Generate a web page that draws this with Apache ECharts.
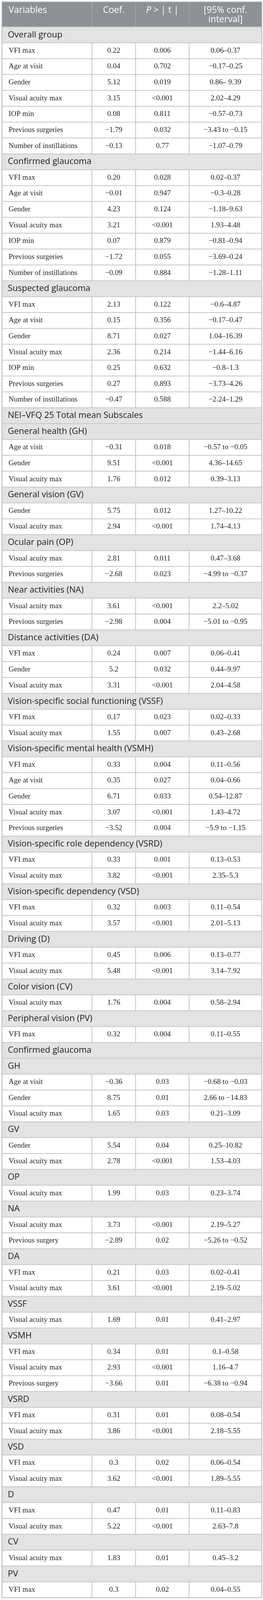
<!DOCTYPE html>
<html>
<head>
<meta charset="utf-8">
<script src="https://cdn.jsdelivr.net/npm/echarts@6/dist/echarts.min.js"></script>
<style>
  html, body { margin: 0; padding: 0; background: #fff; overflow: hidden; }
  #chart { width: 673px; height: 4338px; }
</style>
</head>
<body>
<div id="chart"></div>
<script>
// table content
const headers = ['Variables', 'Coef.', 'P > | t |', '[95% conf.', 'interval]'];

const variables = [
  'Overall group', 'VFI max', 'Age at visit', 'Gender', 'Visual acuity max', 'IOP min', 'Previous surgeries', 'Number of instillations',
  'Confirmed glaucoma', 'VFI max', 'Age at visit', 'Gender', 'Visual acuity max', 'IOP min', 'Previous surgeries', 'Number of instillations',
  'Suspected glaucoma', 'VFI max', 'Age at visit', 'Gender', 'Visual acuity max', 'IOP min', 'Previous surgeries', 'Number of instillations',
  'NEI\u2013VFQ 25 Total mean Subscales',
  'General health (GH)', 'Age at visit', 'Gender', 'Visual acuity max',
  'General vision (GV)', 'Gender', 'Visual acuity max',
  'Ocular pain (OP)', 'Visual acuity max', 'Previous surgeries',
  'Near activities (NA)', 'Visual acuity max', 'Previous surgeries',
  'Distance activities (DA)', 'VFI max', 'Gender', 'Visual acuity max',
  'Vision-specific social functioning (VSSF)', 'VFI max', 'Visual acuity max',
  'Vision-specific mental health (VSMH)', 'VFI max', 'Age at visit', 'Gender', 'Visual acuity max', 'Previous surgeries',
  'Vision-specific role dependency (VSRD)', 'VFI max', 'Visual acuity max',
  'Vision-specific dependency (VSD)', 'VFI max', 'Visual acuity max',
  'Driving (D)', 'VFI max', 'Visual acuity max',
  'Color vision (CV)', 'Visual acuity max',
  'Peripheral vision (PV)', 'VFI max',
  'Confirmed glaucoma',
  'GH', 'Age at visit', 'Gender', 'Visual acuity max',
  'GV', 'Gender', 'Visual acuity max',
  'OP', 'Visual acuity max',
  'NA', 'Visual acuity max', 'Previous surgery',
  'DA', 'VFI max', 'Visual acuity max',
  'VSSF', 'Visual acuity max',
  'VSMH', 'VFI max', 'Visual acuity max', 'Previous surgery',
  'VSRD', 'VFI max', 'Visual acuity max',
  'VSD', 'VFI max', 'Visual acuity max',
  'D', 'VFI max', 'Visual acuity max',
  'CV', 'Visual acuity max',
  'PV', 'VFI max'
];

// null marks a section row
const coef = [
  null, '0.22', '0.04', '5.12', '3.15', '0.08', '\u22121.79', '\u22120.13',
  null, '0.20', '\u22120.01', '4.23', '3.21', '0.07', '\u22121.72', '\u22120.09',
  null, '2.13', '0.15', '8.71', '2.36', '0.25', '0.27', '\u22120.47',
  null,
  null, '\u22120.31', '9.51', '1.76',
  null, '5.75', '2.94',
  null, '2.81', '\u22122.68',
  null, '3.61', '\u22122.98',
  null, '0.24', '5.2', '3.31',
  null, '0.17', '1.55',
  null, '0.33', '0.35', '6.71', '3.07', '\u22123.52',
  null, '0.33', '3.82',
  null, '0.32', '3.57',
  null, '0.45', '5.48',
  null, '1.76',
  null, '0.32',
  null,
  null, '\u22120.36', '8.75', '1.65',
  null, '5.54', '2.78',
  null, '1.99',
  null, '3.73', '\u22122.89',
  null, '0.21', '3.61',
  null, '1.69',
  null, '0.34', '2.93', '\u22123.66',
  null, '0.31', '3.86',
  null, '0.3', '3.62',
  null, '0.47', '5.22',
  null, '1.83',
  null, '0.3'
];

const pValues = [
  null, '0.006', '0.702', '0.019', '<0.001', '0.811', '0.032', '0.77',
  null, '0.028', '0.947', '0.124', '<0.001', '0.879', '0.055', '0.884',
  null, '0.122', '0.356', '0.027', '0.214', '0.632', '0.893', '0.588',
  null,
  null, '0.018', '<0.001', '0.012',
  null, '0.012', '<0.001',
  null, '0.011', '0.023',
  null, '<0.001', '0.004',
  null, '0.007', '0.032', '<0.001',
  null, '0.023', '0.007',
  null, '0.004', '0.027', '0.033', '<0.001', '0.004',
  null, '0.001', '<0.001',
  null, '0.003', '<0.001',
  null, '0.006', '<0.001',
  null, '0.004',
  null, '0.004',
  null,
  null, '0.03', '0.01', '0.03',
  null, '0.04', '<0.001',
  null, '0.03',
  null, '<0.001', '0.02',
  null, '0.03', '<0.001',
  null, '0.01',
  null, '0.01', '<0.001', '0.01',
  null, '0.01', '<0.001',
  null, '0.02', '<0.001',
  null, '0.01', '<0.001',
  null, '0.01',
  null, '0.02'
];

const confInt = [
  null, '0.06\u20130.37', '\u22120.17\u20130.25', '0.86\u2013 9.39', '2.02\u20134.29', '\u22120.57\u20130.73', '\u22123.43 to \u22120.15', '\u22121.07\u20130.79',
  null, '0.02\u20130.37', '\u22120.3\u20130.28', '\u22121.18\u20139.63', '1.93\u20134.48', '\u22120.81\u20130.94', '\u22123.69\u20130.24', '\u22121.28\u20131.11',
  null, '\u22120.6\u20134.87', '\u22120.17\u20130.47', '1.04\u201316.39', '\u22121.44\u20136.16', '\u22120.8\u20131.3', '\u22123.73\u20134.26', '\u22122.24\u20131.29',
  null,
  null, '\u22120.57 to \u22120.05', '4.36\u201314.65', '0.39\u20133.13',
  null, '1.27\u201310.22', '1.74\u20134.13',
  null, '0.47\u20133.68', '\u22124.99 to \u22120.37',
  null, '2.2\u20135.02', '\u22125.01 to \u22120.95',
  null, '0.06\u20130.41', '0.44\u20139.97', '2.04\u20134.58',
  null, '0.02\u20130.33', '0.43\u20132.68',
  null, '0.11\u20130.56', '0.04\u20130.66', '0.54\u201312.87', '1.43\u20134.72', '\u22125.9 to \u22121.15',
  null, '0.13\u20130.53', '2.35\u20135.3',
  null, '0.11\u20130.54', '2.01\u20135.13',
  null, '0.13\u20130.77', '3.14\u20137.92',
  null, '0.58\u20132.94',
  null, '0.11\u20130.55',
  null,
  null, '\u22120.68 to \u22120.03', '2.66 to \u221214.83', '0.21\u20133.09',
  null, '0.25\u201310.82', '1.53\u20134.03',
  null, '0.23\u20133.74',
  null, '2.19\u20135.27', '\u22125.26 to \u22120.52',
  null, '0.02\u20130.41', '2.19\u20135.02',
  null, '0.41\u20132.97',
  null, '0.1\u20130.58', '1.16\u20134.7', '\u22126.38 to \u22120.94',
  null, '0.08\u20130.54', '2.18\u20135.55',
  null, '0.06\u20130.54', '1.89\u20135.55',
  null, '0.11\u20130.83', '2.63\u20137.8',
  null, '0.45\u20133.2',
  null, '0.04\u20130.55'
];

// layout: the visible viewport can be shorter than the page, so squeeze rows to fit it
const pageH = Math.min(4338, window.innerHeight || 4338);
const vs = pageH / 4338;
document.getElementById('chart').style.height = pageH + 'px';

const colEdges = [0, 0.3459, 0.5143, 0.7203, 1];
const sans = '"Open Sans", "Noto Sans", sans-serif';
const serif = '"Liberation Serif", "DejaVu Serif", serif';
const headerFill = '#8b9194';
const sectionFill = '#e2e4e3';
const lineColor = '#c6c6c6';
const outerColor = '#b9b9b9';

function vline(x, y1, y2, color, w) {
  return { type: 'line', z2: 10, shape: { x1: x, y1: y1, x2: x, y2: y2 }, style: { stroke: color, lineWidth: w } };
}
function hline(x1, x2, y, color, w) {
  return { type: 'line', z2: 10, shape: { x1: x1, y1: y, x2: x2, y2: y }, style: { stroke: color, lineWidth: w } };
}
function cellText(text, x, y, align, font, size, color) {
  return {
    type: 'text', z2: 20,
    style: { text: text, x: x, y: y, align: align, verticalAlign: 'middle', fontFamily: font, fontSize: size, fill: color }
  };
}

function renderHeader(params, api) {
  const cs = params.coordSys;
  const xs = colEdges.map(f => cs.x + f * cs.width);
  const top = cs.y, h = cs.height, bottom = top + h;
  const line1 = top + 23 * vs, line2 = top + 48 * vs;
  const children = [
    { type: 'rect', shape: { x: cs.x, y: top, width: cs.width, height: h }, style: { fill: headerFill } },
    cellText(headers[0], xs[0] + 17, line1, 'left', sans, 23, '#fff'),
    cellText(headers[1], (xs[1] + xs[2]) / 2, line1, 'center', sans, 23, '#fff'),
    {
      type: 'text', z2: 20,
      style: {
        text: '{i|P}{n| > | t |}', x: (xs[2] + xs[3]) / 2, y: line1, align: 'center', verticalAlign: 'middle',
        fontFamily: sans, fontSize: 23, fill: '#fff',
        rich: {
          i: { fontStyle: 'italic', fontFamily: sans, fontSize: 23, fill: '#fff' },
          n: { fontFamily: sans, fontSize: 23, fill: '#fff' }
        }
      }
    },
    cellText(headers[3], (xs[3] + xs[4]) / 2, line1, 'center', sans, 23, '#fff'),
    cellText(headers[4], (xs[3] + xs[4]) / 2, line2, 'center', sans, 23, '#fff')
  ];
  for (let k = 1; k < 4; k++) children.push(vline(xs[k], top, bottom, '#a6abae', 1.5));
  children.push(hline(xs[0] - 1, xs[4] + 1, top, outerColor, 2));
  children.push(vline(xs[0], top, bottom, outerColor, 2));
  children.push(vline(xs[4], top, bottom, outerColor, 2));
  children.push(hline(xs[0], xs[4], bottom, lineColor, 2));
  return { type: 'group', children: children };
}

function renderRow(params, api) {
  const i = api.value(1);
  const cs = params.coordSys;
  const h = api.size([0, 1])[1];
  const yc = api.coord([0, i])[1];
  const top = yc - h / 2, bottom = yc + h / 2;
  const xs = colEdges.map(f => cs.x + f * cs.width);
  const isSection = coef[i] == null;
  const children = [
    { type: 'rect', shape: { x: cs.x, y: top, width: cs.width, height: h }, style: { fill: isSection ? sectionFill : '#fff' } }
  ];
  if (isSection) {
    children.push(cellText(variables[i], xs[0] + 15, yc, 'left', sans, 22, '#1a1a1a'));
  } else {
    children.push(cellText(variables[i], xs[0] + 17, yc, 'left', serif, 19, '#1e1e1e'));
    children.push(cellText(coef[i], (xs[1] + xs[2]) / 2, yc, 'center', serif, 19, '#1e1e1e'));
    children.push(cellText(pValues[i], (xs[2] + xs[3]) / 2, yc, 'center', serif, 19, '#1e1e1e'));
    children.push(cellText(confInt[i], (xs[3] + xs[4]) / 2, yc, 'center', serif, 19, '#1e1e1e'));
    for (let k = 1; k < 4; k++) children.push(vline(xs[k], top, bottom, lineColor, 2));
  }
  children.push(hline(xs[0], xs[4], bottom, i === variables.length - 1 ? outerColor : lineColor, 2));
  children.push(vline(xs[0], top, bottom + 1, outerColor, 2));
  children.push(vline(xs[4], top, bottom + 1, outerColor, 2));
  return { type: 'group', children: children };
}

const chart = echarts.init(document.getElementById('chart'));
chart.setOption({
  animation: false,
  grid: [
    { left: 5, width: 665, top: 5 * vs, height: 68 * vs },
    { left: 5, width: 665, top: 73 * vs, height: 4259 * vs }
  ],
  xAxis: [
    { gridIndex: 0, type: 'value', min: 0, max: 1, show: false },
    { gridIndex: 1, type: 'value', min: 0, max: 1, show: false }
  ],
  yAxis: [
    { gridIndex: 0, type: 'category', data: ['header'], show: false },
    { gridIndex: 1, type: 'category', data: variables.map((v, i) => i), inverse: true, show: false }
  ],
  series: [
    {
      type: 'custom', xAxisIndex: 0, yAxisIndex: 0, clip: false, silent: true,
      renderItem: renderHeader, data: [[0, 0]]
    },
    {
      type: 'custom', xAxisIndex: 1, yAxisIndex: 1, clip: false, silent: true,
      renderItem: renderRow, encode: { x: 0, y: 1 },
      data: variables.map((v, i) => [0, i])
    }
  ]
});
</script>
</body>
</html>
